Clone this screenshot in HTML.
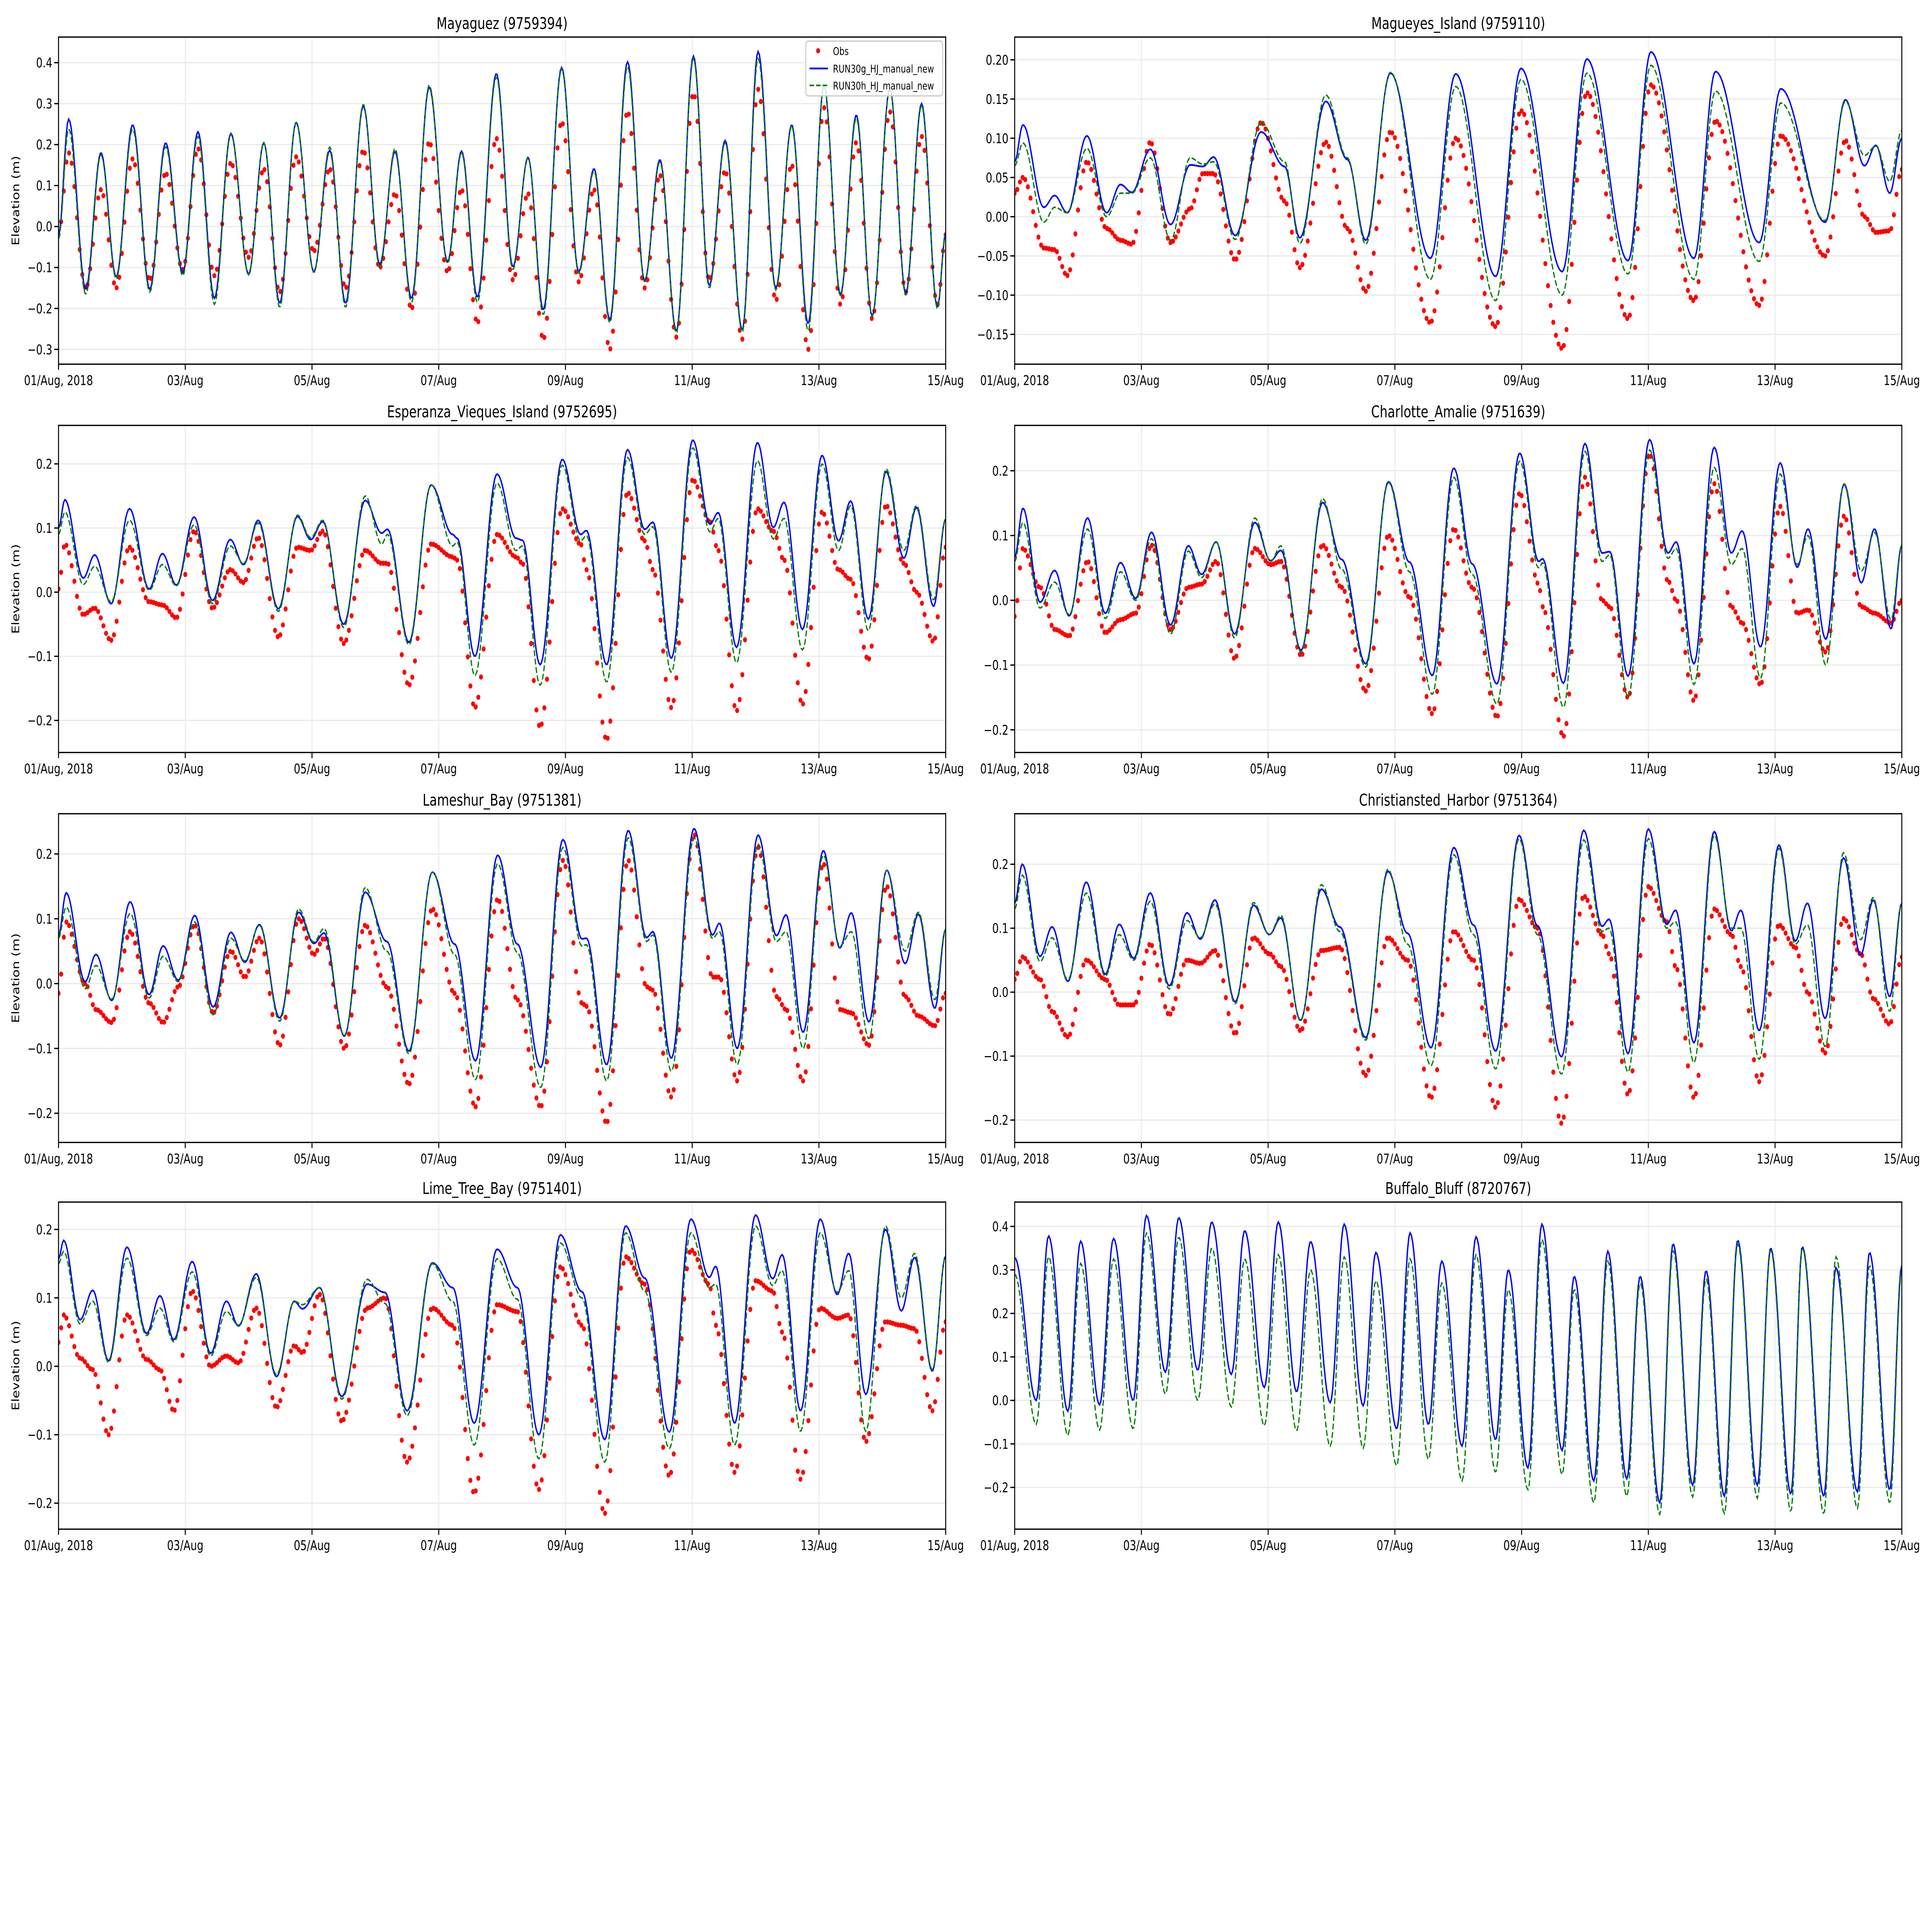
<!DOCTYPE html>
<html><head><meta charset="utf-8"><style>
html,body{margin:0;padding:0;background:#fff;width:100%;height:100%;overflow:hidden;}
svg{display:block;position:absolute;left:0;top:0;width:100vw;height:100vh;font-family:"DejaVu Sans","Liberation Sans",sans-serif;}
</style></head><body>
<svg id="fig" xmlns="http://www.w3.org/2000/svg" viewBox="0 0 1568 1199" preserveAspectRatio="none">
<rect x="0" y="0" width="1568" height="1199" fill="#fff"/>
<g id="root"></g>
</svg>
<script>
// ---- data: turning-point times (days since 01/Aug) and elevations (m) ----
const p1T=[0,.16,.43,.67,.91,1.17,1.44,1.69,1.96,2.2,2.46,2.72,3.0,3.24,3.49,3.75,4.03,4.28,4.53,4.81,5.07,5.31,5.57,5.85,6.14,6.36,6.61,6.91,7.17,7.41,7.65,7.94,8.21,8.45,8.7,8.98,9.25,9.49,9.75,10.02,10.27,10.52,10.79,11.04,11.32,11.57,11.83,12.08,12.34,12.59,12.84,13.12,13.37,13.62,13.87,14];
const p1B=[-0.021,0.262,-0.153,0.18,-0.123,0.248,-0.153,0.204,-0.113,0.231,-0.175,0.227,-0.116,0.204,-0.187,0.254,-0.11,0.186,-0.187,0.294,-0.092,0.183,-0.175,0.34,-0.086,0.184,-0.172,0.373,-0.098,0.168,-0.203,0.388,-0.11,0.141,-0.227,0.402,-0.132,0.163,-0.255,0.416,-0.144,0.21,-0.252,0.427,-0.15,0.248,-0.237,0.343,-0.166,0.272,-0.218,0.337,-0.163,0.3,-0.197,-0.018];
const p1G=[-0.03,0.238,-0.165,0.175,-0.128,0.238,-0.16,0.195,-0.12,0.22,-0.19,0.225,-0.118,0.205,-0.197,0.255,-0.112,0.194,-0.197,0.298,-0.1,0.19,-0.185,0.345,-0.09,0.18,-0.185,0.365,-0.105,0.17,-0.215,0.385,-0.115,0.135,-0.235,0.39,-0.135,0.158,-0.26,0.41,-0.15,0.205,-0.258,0.41,-0.155,0.245,-0.255,0.345,-0.17,0.265,-0.22,0.335,-0.168,0.295,-0.2,-0.02];
const p1O=[-0.02,0.18,-0.15,0.09,-0.15,0.165,-0.13,0.13,-0.105,0.19,-0.12,0.155,-0.075,0.14,-0.16,0.17,-0.06,0.14,-0.15,0.185,-0.1,0.08,-0.2,0.205,-0.11,0.09,-0.235,0.215,-0.13,0.08,-0.275,0.255,-0.135,0.09,-0.3,0.28,-0.15,0.125,-0.27,0.325,-0.13,0.135,-0.275,0.335,-0.18,0.15,-0.3,0.29,-0.19,0.205,-0.225,0.28,-0.16,0.22,-0.19,-0.02];

const p2T=[0,.13,.46,.63,.83,1.14,1.45,1.67,1.85,2.14,2.46,2.77,2.97,3.14,3.48,3.89,4.26,4.5,4.91,5.25,5.54,5.93,6.56,6.96,7.59,7.99,8.64,9.03,9.68,10.04,10.72,11.06,11.75,12.09,12.79,13.11,13.41,13.59,13.81,14];
const p2B=[.07,.117,.012,.027,.005,.103,.005,.041,.031,.086,-.01,.066,.064,.076,-.024,.108,.064,-.027,.147,.073,-.03,.183,-.053,.182,-.076,.189,-.07,.201,-.056,.21,-.053,.185,-.033,.163,-.007,.149,.065,.091,.03,.1];
const p2G=[.065,.094,-.007,.012,.005,.087,.0,.03,.03,.075,-.03,.075,.067,.07,-.029,.12,.07,-.034,.155,.075,-.035,.184,-.08,.166,-.107,.175,-.1,.183,-.073,.193,-.08,.16,-.057,.145,-.005,.147,.078,.09,.045,.11];
const p2O=[.03,.05,-.04,-.042,-.075,.07,-.015,-.03,-.035,.095,-.033,.01,.055,.055,-.055,.12,.02,-.065,.095,-.015,-.095,.108,-.135,.1,-.14,.135,-.168,.158,-.13,.168,-.107,.122,-.113,.103,-.05,.097,.0,-.02,-.018,.06];

const p3T=[0,.1,.39,.57,.83,1.12,1.43,1.64,1.86,2.14,2.43,2.71,2.92,3.15,3.47,3.77,3.98,4.17,4.5,4.84,5.1,5.19,5.53,5.88,6.22,6.29,6.57,6.92,7.22,7.32,7.6,7.95,8.24,8.33,8.65,8.98,9.25,9.38,9.67,10.01,10.28,10.41,10.7,11.03,11.28,11.45,11.74,12.05,12.31,12.5,12.78,13.06,13.34,13.54,13.81,14];
const p3B=[.1,.144,.022,.058,-.018,.13,.005,.06,.011,.117,-.013,.082,.043,.112,-.026,.118,.082,.11,-.05,.143,.092,.098,-.078,.167,.09,.084,-.1,.184,.084,.081,-.113,.207,.09,.096,-.113,.222,.098,.109,-.103,.237,.106,.124,-.086,.233,.101,.14,-.058,.213,.08,.142,-.042,.188,.053,.132,-.022,.114];
const p3G=[.09,.125,.012,.04,-.015,.112,.003,.043,.01,.105,-.018,.072,.045,.108,-.03,.12,.085,.112,-.055,.15,.075,.09,-.082,.167,.072,.078,-.13,.17,.065,.072,-.145,.198,.08,.088,-.14,.21,.09,.102,-.125,.225,.094,.115,-.11,.205,.083,.115,-.09,.2,.065,.135,-.06,.192,.065,.135,-.012,.114];
const p3O=[.005,.075,-.035,-.025,-.075,.07,-.015,-.02,-.04,.095,-.025,.035,.015,.085,-.07,.07,.065,.095,-.08,.065,.045,.045,-.145,.075,.055,.05,-.18,.09,.055,.045,-.21,.13,.075,.035,-.23,.155,.08,.035,-.18,.175,.11,.065,-.185,.13,.095,.05,-.175,.125,.035,.02,-.105,.135,.045,.0,-.077,.07];

const p4T=[0,.13,.4,.63,.86,1.15,1.43,1.67,1.91,2.16,2.46,2.74,2.95,3.18,3.47,3.79,4.04,4.2,4.52,4.86,5.16,5.54,5.9,6.23,6.59,6.93,7.22,7.61,7.97,8.27,8.33,8.66,9.0,9.27,9.39,9.68,10.02,10.31,10.44,10.72,11.04,11.31,11.48,11.77,12.08,12.35,12.52,12.8,13.09,13.36,13.57,13.83,14];
const p4B=[.066,.142,-.003,.046,-.024,.127,-.02,.058,.003,.105,-.038,.084,.04,.09,-.052,.12,.061,.077,-.077,.151,.063,-.098,.183,.059,-.116,.204,.056,-.129,.227,.06,.064,-.128,.242,.073,.075,-.117,.248,.073,.09,-.098,.236,.073,.107,-.072,.212,.051,.11,-.06,.179,.027,.11,-.044,.085];
const p4G=[.06,.12,-.012,.028,-.022,.11,-.028,.044,.0,.095,-.052,.076,.035,.09,-.058,.127,.06,.084,-.08,.157,.048,-.103,.182,.044,-.145,.19,.04,-.16,.215,.05,.058,-.165,.23,.06,.07,-.15,.232,.065,.08,-.13,.205,.055,.08,-.12,.195,.055,.1,-.1,.18,.045,.105,-.03,.085];
const p4O=[-.025,.08,.02,-.045,-.055,.06,-.05,-.03,-.02,.085,-.045,.02,.025,.06,-.09,.08,.055,.06,-.085,.085,.02,-.14,.1,.005,-.175,.11,.02,-.18,.165,.025,-.01,-.21,.19,.0,-.01,-.15,.225,.03,.0,-.155,.18,-.01,-.035,-.13,.145,-.02,-.015,-.08,.13,-.01,-.02,-.035,.0];

const p5T=[0,.12,.42,.59,.84,1.13,1.43,1.65,1.89,2.15,2.44,2.72,2.94,3.17,3.49,3.79,4.03,4.19,4.51,4.84,5.18,5.53,5.9,6.25,6.58,6.93,7.24,7.61,7.96,8.26,8.33,8.65,8.99,9.28,9.38,9.67,10.03,10.32,10.43,10.71,11.04,11.33,11.48,11.75,12.07,12.33,12.51,12.79,13.07,13.36,13.57,13.83,14];
const p5B=[.074,.14,.003,.045,-.026,.126,-.017,.058,.005,.105,-.036,.079,.033,.091,-.053,.11,.062,.078,-.081,.141,.065,-.104,.172,.061,-.119,.198,.061,-.129,.222,.069,.07,-.125,.236,.071,.08,-.115,.239,.075,.093,-.1,.229,.074,.106,-.075,.205,.055,.109,-.059,.175,.031,.107,-.038,.084];
const p5G=[.07,.118,-.008,.028,-.024,.108,-.022,.042,.003,.095,-.048,.07,.035,.09,-.058,.115,.064,.085,-.08,.148,.05,-.108,.172,.045,-.148,.185,.048,-.16,.21,.058,.06,-.15,.225,.065,.075,-.135,.225,.07,.08,-.125,.215,.065,.08,-.1,.198,.058,.08,-.085,.175,.05,.11,-.025,.084];
const p5O=[-.015,.095,.0,-.04,-.06,.08,-.03,-.06,-.005,.09,-.045,.05,.01,.07,-.095,.1,.045,.07,-.1,.09,-.005,-.155,.115,-.015,-.19,.13,-.025,-.19,.19,-.03,-.035,-.215,.19,-.005,-.01,-.175,.23,.01,.01,-.15,.21,-.02,-.04,-.15,.185,-.04,-.045,-.095,.15,-.02,-.05,-.065,-.015];

const p6T=[0,.12,.4,.59,.84,1.13,1.43,1.65,1.88,2.14,2.44,2.72,2.93,3.16,3.48,3.77,4.02,4.2,4.51,4.84,5.13,5.54,5.89,6.2,6.57,6.93,7.24,7.59,7.96,8.25,8.63,8.98,9.27,9.38,9.68,10.0,10.29,10.43,10.72,11.04,11.31,11.46,11.75,12.06,12.32,12.51,12.79,13.08,13.35,13.55,13.81,14];
const p6B=[.139,.2,.056,.102,.017,.172,.028,.106,.053,.155,.01,.124,.083,.144,-.015,.136,.09,.116,-.044,.161,.102,-.071,.189,.092,-.087,.226,.105,-.092,.245,.104,-.101,.253,.103,.114,-.096,.255,.106,.128,-.079,.251,.096,.128,-.06,.23,.08,.139,-.041,.21,.058,.144,-.007,.139];
const p6G=[.13,.183,.048,.085,.02,.155,.025,.09,.05,.142,.005,.112,.085,.138,-.018,.14,.09,.12,-.045,.168,.095,-.075,.192,.075,-.115,.215,.09,-.12,.24,.09,-.128,.238,.095,.1,-.125,.24,.1,.11,-.11,.245,.1,.1,-.105,.225,.075,.105,-.085,.218,.082,.148,-.03,.139];
const p6O=[.02,.055,.02,-.03,-.07,.05,.02,-.02,-.02,.075,-.035,.05,.045,.065,-.065,.085,.06,.04,-.06,.065,.07,-.13,.085,.05,-.165,.095,.05,-.18,.145,.1,-.205,.15,.09,.06,-.16,.165,.11,.04,-.165,.13,.09,.04,-.14,.105,.07,.0,-.095,.115,.06,-.01,-.05,.055];

const p7T=[0,.08,.34,.54,.79,1.08,1.39,1.6,1.82,2.11,2.4,2.65,2.84,3.12,3.44,3.72,3.85,4.12,4.47,4.87,5.15,5.5,5.9,6.22,6.56,6.92,7.24,7.58,7.92,8.26,8.62,8.95,9.25,9.64,9.98,10.27,10.37,10.67,11.0,11.27,11.42,11.71,12.02,12.29,12.47,12.74,13.05,13.3,13.51,13.79,14];
const p7B=[.157,.184,.068,.111,.008,.174,.048,.103,.039,.153,.019,.095,.059,.135,-.015,.095,.084,.115,-.044,.12,.108,-.065,.151,.115,-.083,.171,.115,-.1,.192,.109,-.107,.205,.129,-.096,.215,.13,.146,-.083,.221,.128,.163,-.065,.215,.105,.165,-.041,.2,.081,.159,-.007,.161];
const p7G=[.15,.168,.062,.095,.006,.158,.045,.085,.036,.138,.015,.08,.06,.13,-.012,.095,.09,.115,-.048,.127,.092,-.072,.15,.095,-.115,.157,.098,-.135,.18,.1,-.14,.195,.11,-.12,.195,.115,.12,-.115,.205,.118,.14,-.095,.195,.108,.14,-.095,.205,.1,.165,-.005,.161];
const p7O=[.035,.075,.012,-.005,-.1,.075,.01,-.005,-.065,.11,.0,.015,.005,.085,-.06,.03,.02,.105,-.08,.085,.1,-.14,.085,.06,-.185,.09,.08,-.18,.145,.06,-.215,.16,.12,-.16,.17,.12,.06,-.155,.125,.11,.05,-.165,.085,.07,.075,-.11,.065,.06,.055,-.065,.065];

const p8T=[0,.34,.535,.84,1.04,1.34,1.56,1.87,2.08,2.38,2.59,2.89,3.11,3.42,3.63,3.94,4.16,4.45,4.67,4.98,5.2,5.5,5.7,6.03,6.24,6.53,6.74,7.06,7.28,7.59,7.79,8.1,8.32,8.64,8.83,9.14,9.36,9.66,9.87,10.18,10.39,10.7,10.91,11.2,11.41,11.72,11.93,12.25,12.43,12.77,12.96,13.3,13.49,13.81,14];
const p8B=[.328,.0,.378,-.025,.366,-.01,.372,.0,.425,.065,.42,.07,.41,.06,.39,.03,.41,.02,.365,-.005,.405,-.012,.34,-.065,.385,-.055,.32,-.105,.376,-.09,.3,-.155,.405,-.115,.285,-.185,.343,-.18,.285,-.235,.36,-.195,.298,-.22,.368,-.195,.35,-.215,.353,-.22,.305,-.21,.34,-.205,.31];
const p8G=[.29,-.055,.33,-.08,.315,-.068,.325,-.065,.385,.015,.375,.0,.35,-.015,.325,-.058,.335,-.07,.3,-.105,.33,-.11,.275,-.15,.325,-.135,.27,-.185,.335,-.165,.255,-.205,.37,-.17,.255,-.235,.32,-.22,.27,-.262,.345,-.222,.28,-.26,.36,-.225,.345,-.255,.35,-.26,.33,-.248,.31,-.235,.3];
const p8O=[];

const titles=["Mayaguez (9759394)","Magueyes_Island (9759110)","Esperanza_Vieques_Island (9752695)","Charlotte_Amalie (9751639)","Lameshur_Bay (9751381)","Christiansted_Harbor (9751364)","Lime_Tree_Bay (9751401)","Buffalo_Bluff (8720767)"];
const xTickLabels=["01/Aug, 2018","03/Aug","05/Aug","07/Aug","09/Aug","11/Aug","13/Aug","15/Aug"];
const xTickDays=[0,2,4,6,8,10,12,14];
const yTicks1=[-0.3,-0.2,-0.1,0.0,0.1,0.2,0.3,0.4];
const yTicks2=[-0.15,-0.10,-0.05,0.00,0.05,0.10,0.15,0.20];
const yTicksC=[-0.2,-0.1,0.0,0.1,0.2];
const yTicks8=[-0.2,-0.1,0.0,0.1,0.2,0.3,0.4];

// ---- layout ----
const NS="http://www.w3.org/2000/svg";
const root=document.getElementById('root');
function mk(tag,attrs,parent){const e=document.createElementNS(NS,tag);for(const k in attrs)e.setAttribute(k,attrs[k]);(parent||root).appendChild(e);return e;}

const colX=[[47.5,767.5],[823.5,1543.5]];
const rowY=[[23,226],[264,467],[505,709],[746,949]];
const panels=[
 {T:p1T,B:p1B,G:p1G,O:p1O,ymin:-0.336,ymax:0.4625,ticks:yTicks1,dec:1},
 {T:p2T,B:p2B,G:p2G,O:p2O,ymin:-0.188,ymax:0.229,ticks:yTicks2,dec:2},
 {T:p3T,B:p3B,G:p3G,O:p3O,ymin:-0.25,ymax:0.26,ticks:yTicksC,dec:1},
 {T:p4T,B:p4B,G:p4G,O:p4O,ymin:-0.235,ymax:0.27,ticks:yTicksC,dec:1},
 {T:p5T,B:p5B,G:p5G,O:p5O,ymin:-0.245,ymax:0.262,ticks:yTicksC,dec:1},
 {T:p6T,B:p6B,G:p6G,O:p6O,ymin:-0.235,ymax:0.279,ticks:yTicksC,dec:1},
 {T:p7T,B:p7B,G:p7G,O:p7O,ymin:-0.238,ymax:0.24,ticks:yTicksC,dec:1},
 {T:p8T,B:p8B,G:p8G,O:p8O,ymin:-0.296,ymax:0.456,ticks:yTicks8,dec:1}
];

function interp(T,V,t){
  if(t<=T[0])return V[0];
  for(let i=0;i<T.length-1;i++){
    if(t<=T[i+1]){const f=(t-T[i])/(T[i+1]-T[i]);return V[i]+(V[i+1]-V[i])*(1-Math.cos(Math.PI*f))/2;}
  }
  return V[V.length-1];
}
function fmt(v,d){const s=Math.abs(v).toFixed(d);return (v<-1e-9?"\u2212":"")+s;}

panels.forEach((p,idx)=>{
  const col=idx%2,row=Math.floor(idx/2);
  const x0=colX[col][0],x1=colX[col][1],y0=rowY[row][0],y1=rowY[row][1];
  const xs=d=>x0+d*(x1-x0)/14;
  const ys=v=>y1-(v-p.ymin)*(y1-y0)/(p.ymax-p.ymin);
  const g=mk('g',{});
  
  
  const cid='clip'+idx;
  const cp=mk('clipPath',{id:cid},g);mk('rect',{x:x0,y:y0,width:x1-x0,height:y1-y0},cp);
  xTickDays.forEach(d=>{const l=mk('line',{x1:xs(d),x2:xs(d),y1:y0,y2:y1,stroke:'#ebebeb','stroke-width':0.8},g);});
  p.ticks.forEach(v=>{const l=mk('line',{x1:x0,x2:x1,y1:ys(v),y2:ys(v),stroke:'#ebebeb','stroke-width':0.8},g);});
  const data=mk('g',{'clip-path':'url(#'+cid+')'},g);
  let db='',dg='';
  for(let k=0;k<=700;k++){const t=k*0.02;db+=(k?'L':'M')+xs(t).toFixed(2)+','+ys(interp(p.T,p.B,t)).toFixed(2);dg+=(k?'L':'M')+xs(t).toFixed(2)+','+ys(interp(p.T,p.G,t)).toFixed(2);}
  if(p.O.length){
    const og=mk('g',{fill:'#ff0000'},data);
    
    
    for(let h=0;h<=336;h++){const t=h/24;const c=mk('circle',{cx:xs(t).toFixed(2),cy:ys(interp(p.T,p.O,t)).toFixed(2),r:1.6},og);
      
      }
  }
  const bl=mk('path',{d:db,fill:'none',stroke:'#0000ff','stroke-width':1.1},data);
  
  
  const gl=mk('path',{d:dg,fill:'none',stroke:'#008000','stroke-width':1,'stroke-dasharray':'3.7,1.6'},data);
  
  
  const fr=mk('rect',{x:x0,y:y0,width:x1-x0,height:y1-y0,fill:'none',stroke:'#000','stroke-width':0.8},g);
  
  
  xTickDays.forEach((d,i)=>{
    mk('line',{x1:xs(d),x2:xs(d),y1:y1,y2:y1+3.5,stroke:'#000','stroke-width':0.8},g);
    const tx=mk('text',{x:xs(d),y:y1+13,'font-size':8.3,'text-anchor':'middle',fill:'#000'},g);
    tx.textContent=xTickLabels[i];
    
    
  });
  p.ticks.forEach(v=>{
    mk('line',{x1:x0-3.5,x2:x0,y1:ys(v),y2:ys(v),stroke:'#000','stroke-width':0.8},g);
    const tx=mk('text',{x:x0-5,y:ys(v)+3,'font-size':8.3,'text-anchor':'end',fill:'#000'},g);
    tx.textContent=fmt(v,p.dec);
    
    
  });
  const ti=mk('text',{x:(x0+x1)/2,y:y0-5,'font-size':10,'text-anchor':'middle',fill:'#000'},g);
  ti.textContent=titles[idx];
  
  
  if(col===0){
    const yl=mk('text',{x:0,y:0,'font-size':8.3,'text-anchor':'middle',fill:'#000',transform:'translate(15.5,'+((y0+y1)/2)+') rotate(-90)'},g);
    yl.textContent='Elevation (m)';
    
    
  }
});

const lg=mk('g',{});


mk('rect',{x:654,y:25.5,width:111,height:34,rx:2,fill:'#fff','fill-opacity':0.85,stroke:'#cccccc','stroke-width':0.8},lg);
mk('circle',{cx:664,cy:31.5,r:1.6,fill:'#ff0000'},lg);
mk('line',{x1:657,x2:672,y1:42.5,y2:42.5,stroke:'#0000ff','stroke-width':1.1},lg);
mk('line',{x1:657,x2:672,y1:53,y2:53,stroke:'#008000','stroke-width':1,'stroke-dasharray':'3.7,1.6'},lg);
[["Obs",34],["RUN30g_HJ_manual_new",45],["RUN30h_HJ_manual_new",55.5]].forEach(a=>{
  const t=mk('text',{x:676,y:a[1],'font-size':6.6,fill:'#000'},lg);
  t.textContent=a[0];
  
  
});
</script>
</body></html>
